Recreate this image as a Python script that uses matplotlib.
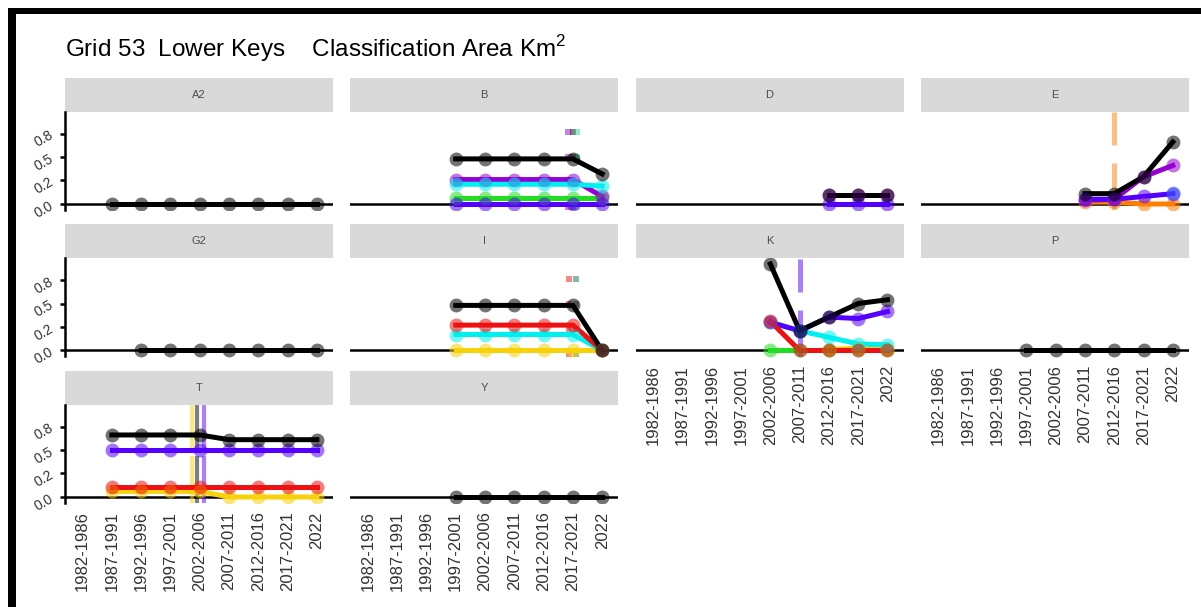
import numpy as np
import matplotlib.pyplot as plt
from matplotlib.patches import Rectangle

plt.rcParams["font.family"] = ["Liberation Sans", "DejaVu Sans"]
plt.rcParams["mathtext.fontset"] = "custom"
plt.rcParams["mathtext.rm"] = "Liberation Sans"
plt.rcParams["lines.scale_dashes"] = False

nan = np.nan

periods = ["1982-1986", "1987-1991", "1992-1996", "1997-2001", "2002-2006",
           "2007-2011", "2012-2016", "2017-2021", "2022"]

# area (km2) per class, one value per period
A2 = {"black": [nan, 0, 0, 0, 0, 0, 0, 0, 0]}
B = {
    "green":      [nan, nan, nan, 0.06, 0.06, 0.06, 0.06, 0.06, 0.06],
    "darkviolet": [nan, nan, nan, 0.26, 0.26, 0.26, 0.26, 0.26, 0.08],
    "cyan":       [nan, nan, nan, 0.21, 0.21, 0.21, 0.21, 0.21, 0.19],
    "blueviolet": [nan, nan, nan, 0, 0, 0, 0, 0, 0],
    "black":      [nan, nan, nan, 0.48, 0.48, 0.48, 0.48, 0.48, 0.32],
}
D = {
    "darkviolet": [nan, nan, nan, nan, nan, nan, 0.1, 0.1, 0.1],
    "blueviolet": [nan, nan, nan, nan, nan, nan, 0, 0, 0],
    "black":      [nan, nan, nan, nan, nan, nan, 0.1, 0.1, 0.1],
}
E = {
    "orange":     [nan, nan, nan, nan, nan, 0.02, 0.02, 0.0, 0.0],
    "darkviolet": [nan, nan, nan, nan, nan, 0.04, 0.05, 0.29, 0.41],
    "blueviolet": [nan, nan, nan, nan, nan, 0.05, 0.05, 0.08, 0.11],
    "blue":       [nan, nan, nan, nan, nan, nan, nan, nan, 0.12],
    "black":      [nan, nan, nan, nan, nan, 0.11, 0.11, 0.29, 0.66],
}
G2 = {"black": [nan, nan, 0, 0, 0, 0, 0, 0, 0]}
I = {
    "gold":  [nan, nan, nan, 0, 0, 0, 0, 0, 0],
    "cyan":  [nan, nan, nan, 0.17, 0.17, 0.17, 0.17, 0.17, 0],
    "red":   [nan, nan, nan, 0.27, 0.27, 0.27, 0.27, 0.27, 0],
    "black": [nan, nan, nan, 0.48, 0.48, 0.48, 0.48, 0.48, 0],
}
K = {
    "gold":       [nan, nan, nan, nan, nan, nan, 0.01, 0.025, 0.02],
    "green":      [nan, nan, nan, nan, 0, 0, 0, 0, 0],
    "cyan":       [nan, nan, nan, nan, 0.30, 0.21, 0.14, 0.07, 0.06],
    "blueviolet": [nan, nan, nan, nan, 0.30, 0.21, 0.355, 0.34, 0.415],
    "red":        [nan, nan, nan, nan, 0.31, 0, 0, 0, 0],
    "black":      [nan, nan, nan, nan, 0.92, 0.21, 0.355, 0.50, 0.54],
}
P = {"black": [nan, nan, nan, 0, 0, 0, 0, 0, 0]}
T = {
    "gold":       [nan, 0.06, 0.06, 0.06, 0.06, 0, 0, 0, 0],
    "blueviolet": [nan, 0.50, 0.50, 0.50, 0.50, 0.50, 0.50, 0.50, 0.50],
    "red":        [nan, 0.11, 0.11, 0.11, 0.11, 0.11, 0.11, 0.11, 0.11],
    "black":      [nan, 0.66, 0.66, 0.66, 0.66, 0.61, 0.61, 0.61, 0.61],
}
Y = {"black": [nan, nan, nan, 0, 0, 0, 0, 0, 0]}

# change events marked per panel: (period, colour)
events_B = [("2017-2021", "darkviolet"), ("2017-2021", "black"), ("2017-2021", "teal")]
events_E = [("2012-2016", "orange")]
events_I = [("2017-2021", "red"), ("2017-2021", "darkgreen")]
events_K = [("2007-2011", "blueviolet")]
events_T = [("2002-2006", "gold"), ("2002-2006", "black"), ("2002-2006", "blueviolet")]

panels = [("A2", A2, []), ("B", B, events_B), ("D", D, []), ("E", E, events_E),
          ("G2", G2, []), ("I", I, events_I), ("K", K, events_K), ("P", P, []),
          ("T", T, events_T), ("Y", Y, [])]

colors = {
    "gold": "#F7D20A", "orange": "#FF7F00", "green": "#22DD22",
    "darkviolet": "#9400D3", "cyan": "#00F0F0", "blueviolet": "#5500FF",
    "blue": "#3366FF", "red": "#EE1111", "black": "#000000",
    "teal": "#20D8A0", "darkgreen": "#1E6E4E",
}
order = ["gold", "orange", "green", "darkviolet", "cyan", "blueviolet", "blue", "red", "black"]

# event line look per panel: dodge offsets, width (pt), dash pattern (pt)
event_style = {
    "B": ([-0.17, 0.0, 0.14], 4.3, (4.3, 13.7)),
    "I": ([-0.14, 0.1], 4.3, (4.3, 13.7)),
    "E": ([0.0], 3.6, (33.8, 13.0)),
    "K": ([0.0], 3.6, (33.8, 13.0)),
    "T": ([-0.26, -0.09, 0.16], 3.0, (33.8, 2.9)),
}

W, H = 1201, 607
fig = plt.figure(figsize=(W / 100, H / 100), dpi=100)


def box(x, y, w, h):
    return [x / W, 1 - (y + h) / H, w / W, h / H]


x = np.arange(1, len(periods) + 1)
bottom_row = {"T", "Y", "K", "P"}

for idx, (name, data, events) in enumerate(panels):
    r, c = divmod(idx, 4)
    left = 65 + c * 285.3
    top = 78 + r * 146.5

    strip = fig.add_axes(box(left, top, 268, 34))
    strip.set_facecolor("#D9D9D9")
    strip.set_xticks([])
    strip.set_yticks([])
    for s in strip.spines.values():
        s.set_visible(False)
    strip.text(0.5, 0.5, name, ha="center", va="center", fontsize=8, color="#4D4D4D",
               transform=strip.transAxes)

    ax = fig.add_axes(box(left, top + 34, 268, 98))
    ax.set_xlim(0.4, 9.55)
    ax.set_ylim(-0.064, 0.979)
    ax.axhline(0, color="black", lw=1.8, zorder=1)

    if events:
        offsets, lw, dash = event_style[name]
        for (period, col), off in zip(events, offsets):
            xpos = periods.index(period) + 1 + off
            ax.axvline(xpos, color=colors[col], alpha=0.5, lw=lw, dashes=dash,
                       solid_capstyle="butt", dash_capstyle="butt", zorder=1.5)

    keys = [k for k in order if k in data]
    for k in keys:
        ax.plot(x, data[k], color=colors[k], lw=3.6, zorder=2)
    for k in keys:
        ax.plot(x, data[k], "o", color=colors[k], ms=10, mew=0, alpha=0.55, zorder=3)

    for s in ["top", "right", "bottom"]:
        ax.spines[s].set_visible(False)
    if c == 0:
        ax.spines["left"].set_linewidth(1.8)
        ax.set_yticks([0, 0.25, 0.5, 0.75])
        ax.set_yticklabels(["0.0", "0.2", "0.5", "0.8"])
        ax.tick_params(axis="y", length=3.6, width=1.8, color="black", labelsize=10,
                       labelcolor="#333333", labelrotation=30, pad=3)
    else:
        ax.spines["left"].set_visible(False)
        ax.set_yticks([])

    ax.set_xticks(x)
    if name in bottom_row:
        ax.set_xticklabels(periods, rotation=90)
        ax.tick_params(axis="x", length=0, pad=6, labelsize=12, labelcolor="#333333")
    else:
        ax.set_xticklabels([])
        ax.tick_params(axis="x", length=0)

fig.text(65 / W, 1 - 49 / H, "Grid 53  Lower Keys    Classification Area Km$^2$",
         fontsize=17.5, va="center", ha="left")

# black frame along the top and left edges
fig.patches.append(Rectangle((8 / W, 0), 8 / W, 1 - 8 / H, transform=fig.transFigure,
                             facecolor="black", edgecolor="none"))
fig.patches.append(Rectangle((8 / W, 1 - 14 / H), 1 - 8 / W, 6 / H, transform=fig.transFigure,
                             facecolor="black", edgecolor="none"))

fig.savefig("out.png", dpi=100)
